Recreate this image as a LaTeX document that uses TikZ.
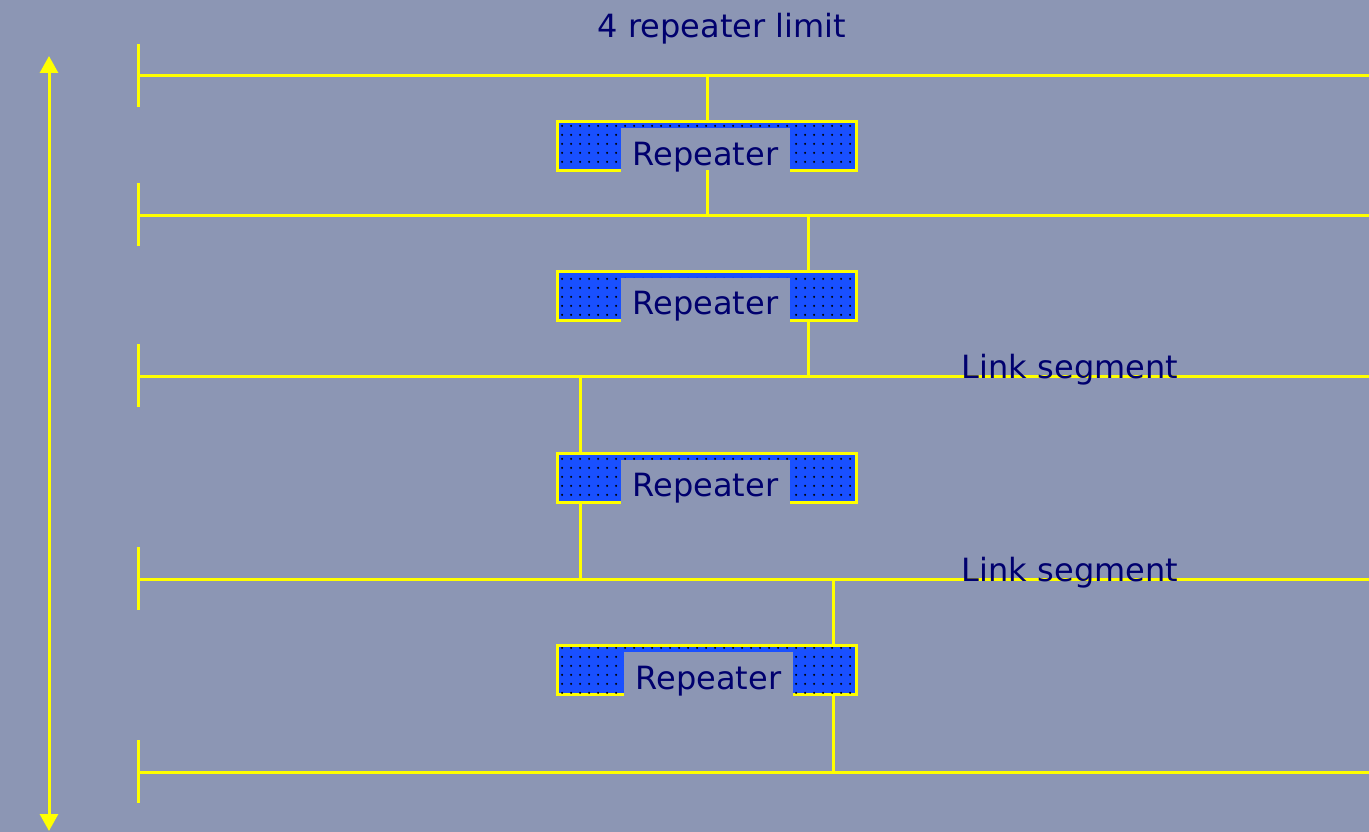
\documentclass[tikz,border=0pt]{standalone}
\usepackage{fontspec}
\setmainfont{DejaVu Sans}
\usetikzlibrary{patterns,arrows.meta}
\definecolor{bg}{RGB}{140,150,180}
\definecolor{txt}{RGB}{0,0,110}
\definecolor{ylw}{RGB}{255,255,0}
\definecolor{rblue}{RGB}{25,80,255}
\pgfdeclarepatternformonly{sparsedots}{\pgfpointorigin}{\pgfpoint{9pt}{9pt}}{\pgfpoint{9pt}{9pt}}{\pgfpathcircle{\pgfpoint{4.5pt}{4.5pt}}{1.3pt}\pgfusepath{fill}}
\tikzset{
  wire/.style={draw=ylw, line width=3pt},
  repbox/.style={draw=ylw, line width=3pt, fill=rblue, minimum width=299pt, minimum height=49pt, inner sep=0pt, outer sep=0pt},
  repdots/.style={pattern=sparsedots, pattern color=black},
  replabel/.style={fill=bg, text=txt, font=\fontsize{32}{38}\selectfont, minimum width=169pt, minimum height=45pt, inner sep=0pt, text height=37pt, text depth=8pt},
  lbl/.style={text=txt, font=\fontsize{32}{38}\selectfont, inner sep=0pt},
}
\begin{document}
\begin{tikzpicture}[x=1pt,y=-1pt]
\useasboundingbox[fill=bg] (0,0) rectangle (1369,832);
% title
\node[lbl, anchor=base] (title) at (722,38) {4 repeater limit};
% double arrow
\coordinate (atop) at (49,56);
\coordinate (abot) at (49,831);
\draw[wire, {Triangle[width=18pt,length=17pt]}-{Triangle[width=18pt,length=17pt]}] (atop) -- (abot);
% buses
\foreach \i/\y in {1/76,2/215,3/376,4/579,5/772}{
  \coordinate (bl\i) at (138,\y);
  \coordinate (br\i) at (1369,\y);
  \coordinate (bt\i) at (138,\y-32);
  \coordinate (bb\i) at (138,\y+31);
  \draw[wire] (bl\i) -- (br\i);
  \draw[wire] (bt\i) -- (bb\i);
}
% repeaters
\foreach \i/\y/\lx in {1/146/705.5,2/295.5/705.5,3/477.5/705.5,4/670/708.5}{
  \node[repbox] (r\i) at (707,\y) {};
  \fill[repdots] ([shift={(1.5,-1.5)}]r\i.south west) rectangle ([shift={(-1.5,1.5)}]r\i.north east);
  \node[replabel, anchor=north] (l\i) at (\lx,\y-18) {Repeater};
}
% verticals
\coordinate (v1a) at (707,76);  \coordinate (v1b) at (707,215);
\coordinate (v2a) at (808,215); \coordinate (v2b) at (808,376);
\coordinate (v3a) at (580,376); \coordinate (v3b) at (580,579);
\coordinate (v4a) at (833,579); \coordinate (v4b) at (833,772);
\draw[wire] (v1a) -- (v1a |- r1.north);
\draw[wire] (v1a |- r1.south) -- (v1b);
\draw[wire] (v2a) -- (v2a |- r2.north);
\draw[wire] (v2a |- r2.south) -- (v2b);
\draw[wire] (v3a) -- (v3a |- r3.north);
\draw[wire] (v3a |- r3.south) -- (v3b);
\draw[wire] (v4a) -- (v4a |- r4.north);
\draw[wire] (v4a |- r4.south) -- (v4b);
% link segment labels
\node[lbl, anchor=base] (ls1) at (1070,378) {Link segment};
\node[lbl, anchor=base] (ls2) at (1070,581) {Link segment};
\end{tikzpicture}
\end{document}
